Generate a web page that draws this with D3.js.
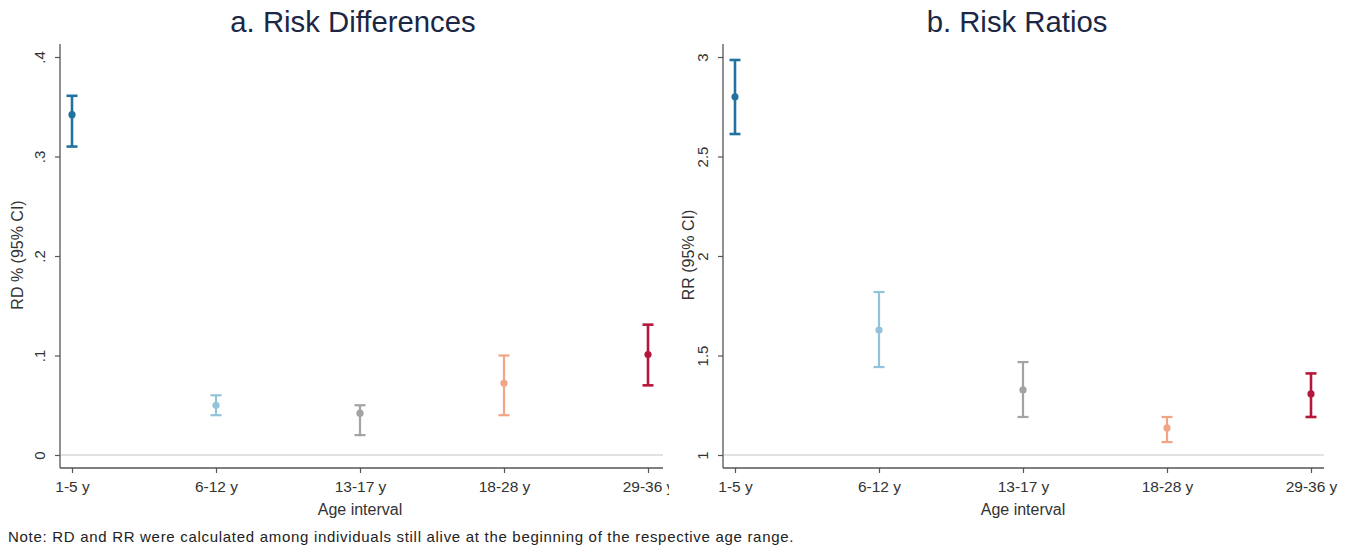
<!DOCTYPE html>
<html><head><meta charset="utf-8">
<script src="https://cdn.jsdelivr.net/npm/d3@7"></script>
<style>body{margin:0;background:#fff}svg{display:block}text{font-family:"Liberation Sans",Arial,sans-serif}</style>
</head><body><svg id="c" width="1349" height="552"></svg>
<script>
const categories = ["1-5 y","6-12 y","13-17 y","18-28 y","29-36 y"];
const colors = ["#22729f","#93c3db","#a3a3a3","#f2a585","#b5173c"];
const rdEst = [0.342, 0.050, 0.042, 0.072, 0.101];
const rdLo  = [0.310, 0.040, 0.020, 0.040, 0.070];
const rdHi  = [0.361, 0.060, 0.050, 0.100, 0.131];
const rdTicks = [0, 0.1, 0.2, 0.3, 0.4];
const rdTickLabels = ["0", ".1", ".2", ".3", ".4"];
const rrEst = [2.80, 1.628, 1.327, 1.136, 1.307];
const rrLo  = [2.613, 1.442, 1.191, 1.065, 1.191];
const rrHi  = [2.985, 1.819, 1.467, 1.191, 1.410];
const rrTicks = [1, 1.5, 2, 2.5, 3];
const rrTickLabels = ["1", "1.5", "2", "2.5", "3"];
const note = "Note: RD and RR were calculated among individuals still alive at the beginning of the respective age range.";

const svg = d3.select("#c");
const defs = svg.append("defs");
const FONT = '"Liberation Sans",Arial,sans-serif';

function panel(o){
  const g = svg.append("g");
  const clipId = "clip" + o.id;
  defs.append("clipPath").attr("id", clipId).append("rect")
    .attr("x", o.clipX0).attr("y", 0).attr("width", o.clipX1 - o.clipX0).attr("height", 552);
  const gc = g.append("g").attr("clip-path", `url(#${clipId})`);
  const x = d3.scalePoint().domain(categories).range([o.xFirst, o.xLast]);
  const y = d3.scaleLinear().domain([o.ticks[0], o.ticks[o.ticks.length-1]]).range([455, 57]);

  g.append("text").attr("x", o.titleX).attr("y", 32).attr("text-anchor","middle")
    .attr("font-size", 29.3).attr("fill", "#1b2745").text(o.title);

  gc.append("line").attr("x1", o.axisX + 1).attr("x2", o.axisRight)
    .attr("y1", y(o.ticks[0])).attr("y2", y(o.ticks[0]))
    .attr("stroke", "#d9d9d9").attr("stroke-width", 1.5);

  const ya = d3.axisLeft(y).tickValues(o.ticks).tickFormat((d,i)=>o.tickLabels[i]).tickSize(5).tickSizeOuter(0);
  const yg = gc.append("g").attr("transform", `translate(${o.axisX},0)`).call(ya);
  yg.select(".domain").attr("stroke", "#555").attr("stroke-width", 1.3)
    .attr("d", `M0,${o.axisTop}V${o.axisBottom}`);
  yg.selectAll(".tick line").attr("stroke", "#555").attr("stroke-width", 1.2);
  yg.selectAll(".tick text").attr("font-size", 15).attr("fill", "#333")
    .attr("font-family", FONT)
    .attr("transform", "rotate(-90)").attr("x", 0).attr("y", -15)
    .attr("dy", "0").attr("text-anchor", "middle");

  g.append("text").attr("transform", `translate(${o.yLabelX},${o.yLabelY}) rotate(-90)`)
    .attr("text-anchor","middle").attr("font-size", 16).attr("fill", "#333").text(o.yLabel);

  const xa = d3.axisBottom(x).tickSize(5).tickSizeOuter(0);
  const xg = gc.append("g").attr("transform", `translate(0,${o.axisBottom})`).call(xa);
  xg.select(".domain").attr("stroke", "#555").attr("stroke-width", 1.3)
    .attr("d", `M${o.axisX},0H${o.axisRight}`);
  xg.selectAll(".tick line").attr("stroke", "#555").attr("stroke-width", 1.2);
  xg.selectAll(".tick text").attr("font-size", 15.5).attr("fill", "#333")
    .attr("font-family", FONT).attr("y", 13);

  g.append("text").attr("x", x(categories[2])).attr("y", 515).attr("text-anchor","middle")
    .attr("font-size", 16).attr("fill", "#333").text("Age interval");

  const data = categories.map((c,i)=>({c, e:o.est[i], lo:o.lo[i], hi:o.hi[i], col:colors[i], w: (i===0||i===4)?2.6:2.2}));
  const eb = gc.append("g").selectAll("g").data(data).join("g");
  eb.append("line").attr("x1", d=>x(d.c)).attr("x2", d=>x(d.c))
    .attr("y1", d=>y(d.lo)).attr("y2", d=>y(d.hi)).attr("stroke", d=>d.col).attr("stroke-width", d=>d.w);
  eb.append("line").attr("x1", d=>x(d.c)-5.5).attr("x2", d=>x(d.c)+5.5)
    .attr("y1", d=>y(d.lo)).attr("y2", d=>y(d.lo)).attr("stroke", d=>d.col).attr("stroke-width", d=>d.w);
  eb.append("line").attr("x1", d=>x(d.c)-5.5).attr("x2", d=>x(d.c)+5.5)
    .attr("y1", d=>y(d.hi)).attr("y2", d=>y(d.hi)).attr("stroke", d=>d.col).attr("stroke-width", d=>d.w);
  eb.append("circle").attr("cx", d=>x(d.c)).attr("cy", d=>y(d.e)).attr("r", 3.6).attr("fill", d=>d.col);
}

panel({id:"a", title:"a. Risk Differences", titleX:353, clipX0:0, clipX1:669,
  xFirst:72, xLast:648, axisX:60, axisRight:663, axisTop:44, axisBottom:468,
  est:rdEst, lo:rdLo, hi:rdHi,
  ticks:rdTicks, tickLabels:rdTickLabels, yLabel:"RD % (95% CI)", yLabelX:23, yLabelY:255});

panel({id:"b", title:"b. Risk Ratios", titleX:1017, clipX0:670, clipX1:1349,
  xFirst:735, xLast:1311, axisX:723, axisRight:1324, axisTop:44, axisBottom:468,
  est:rrEst, lo:rrLo, hi:rrHi,
  ticks:rrTicks, tickLabels:rrTickLabels, yLabel:"RR (95% CI)", yLabelX:694, yLabelY:255});

svg.append("text").attr("x", 8).attr("y", 542).attr("font-size", 15).attr("letter-spacing", 0.7)
  .attr("fill", "#222").text(note);
</script>
</body></html>
